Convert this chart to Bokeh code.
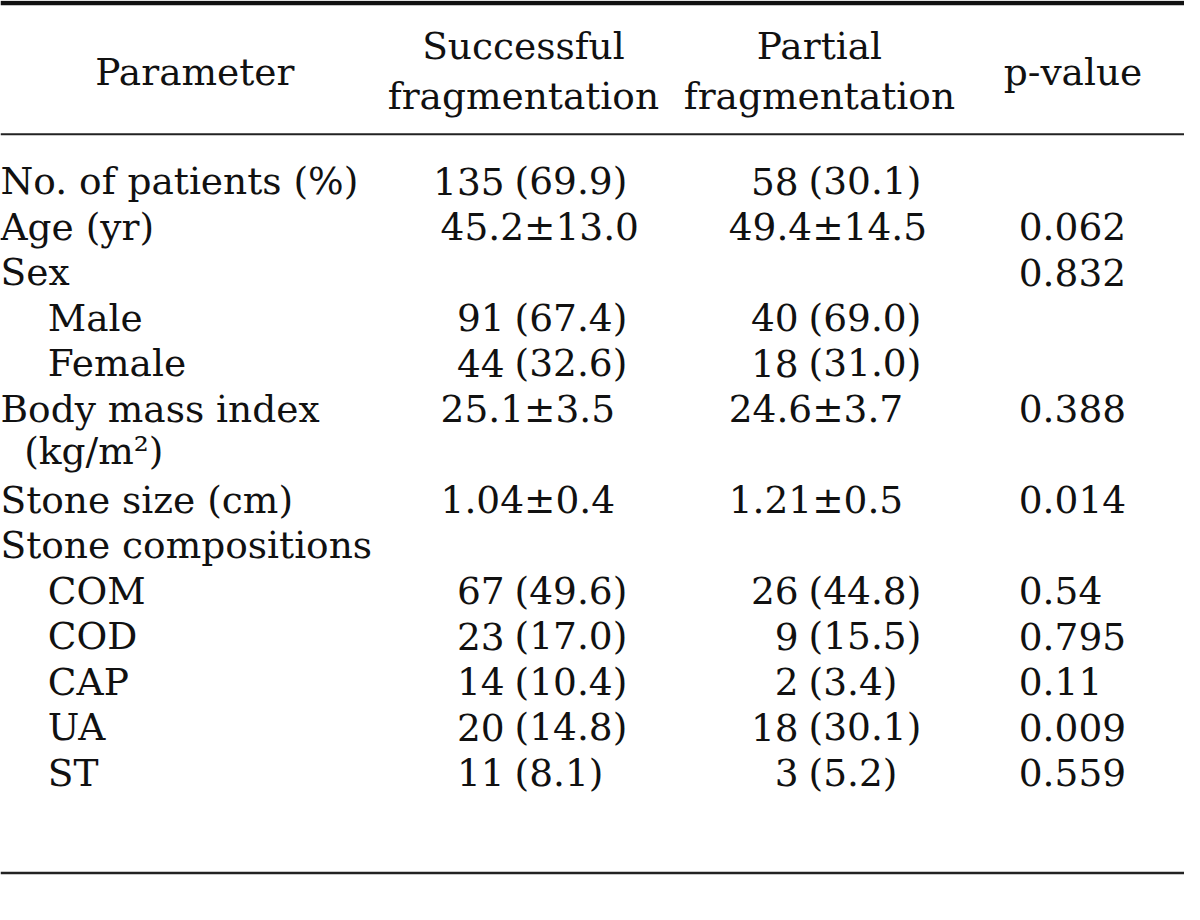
from bokeh.plotting import figure
from bokeh.models import ColumnDataSource, Range1d
from bokeh.core.properties import value
from bokeh.embed import file_html
from bokeh.resources import INLINE

# ---------------- data ----------------
headers = ["Parameter", "Successful\nfragmentation", "Partial\nfragmentation", "p-value"]

labels = ["No. of patients (%)", "Age (yr)", "Sex", "Male", "Female",
          "Body mass index", "(kg/m\u00b2)", "Stone size (cm)", "Stone compositions",
          "COM", "COD", "CAP", "UA", "ST"]
indent = [0, 0, 0, 2, 2, 0, 1, 0, 0, 2, 2, 2, 2, 2]

# successful fragmentation: counts (%) or mean±SD
succ_n   = ["135", "", "", "91", "44", "", "", "", "", "67", "23", "14", "20", "11"]
succ_pct = ["(69.9)", "", "", "(67.4)", "(32.6)", "", "", "", "", "(49.6)", "(17.0)", "(10.4)", "(14.8)", "(8.1)"]
succ_ms  = ["", "45.2\u00b113.0", "", "", "", "25.1\u00b13.5", "", "1.04\u00b10.4", "", "", "", "", "", ""]

# partial fragmentation
part_n   = ["58", "", "", "40", "18", "", "", "", "", "26", "9", "2", "18", "3"]
part_pct = ["(30.1)", "", "", "(69.0)", "(31.0)", "", "", "", "", "(44.8)", "(15.5)", "(3.4)", "(30.1)", "(5.2)"]
part_ms  = ["", "49.4\u00b114.5", "", "", "", "24.6\u00b13.7", "", "1.21\u00b10.5", "", "", "", "", "", ""]

pvals = ["", "0.062", "0.832", "", "", "0.388", "", "0.014", "", "0.54", "0.795", "0.11", "0.009", "0.559"]

# ---------------- layout ----------------
W, H = 1200, 920
FONT = value("DejaVu Serif")
FS = "37.5px"

p = figure(width=1184, height=904, output_backend="svg", toolbar_location=None,
           x_range=Range1d(0, W), y_range=Range1d(H, 0),
           min_border=0, min_border_left=0, min_border_right=0,
           min_border_top=0, min_border_bottom=0)
p.axis.visible = False
p.grid.visible = False
p.outline_line_color = None
p.background_fill_color = "white"

# rules
p.segment(x0=[0], y0=[2.5], x1=[W], y1=[2.5], line_color="#111111", line_width=4.5)
p.segment(x0=[0], y0=[136], x1=[W], y1=[136], line_color="#222222", line_width=2)
p.segment(x0=[0], y0=[888], x1=[W], y1=[888], line_color="#222222", line_width=2.5)

def txt(xs, ys, texts, align):
    src = ColumnDataSource(dict(x=xs, y=ys, t=texts))
    p.text(x="x", y="y", text="t", source=src, text_font=FONT, text_font_size=FS,
           text_align=align, text_baseline="middle", text_color="#111111")

# header
hx = [197, 530, 830, 1087]
hdr_x, hdr_y, hdr_t = [], [], []
for x, h in zip(hx, headers):
    parts = h.split("\n")
    if len(parts) == 1:
        hdr_x.append(x); hdr_y.append(73); hdr_t.append(parts[0])
    else:
        hdr_x += [x, x]; hdr_y += [46, 97]; hdr_t += parts
txt(hdr_x, hdr_y, hdr_t, "center")

# body rows
row0, dy = 184, 46.3
ys = [row0 + i * dy for i in range(len(labels))]
ys = [y - (3 if labels[i].startswith("(kg") else 0) for i, y in enumerate(ys)]

txt([0 + 24 * k for k in indent], ys, labels, "left")

def keep(xs, ys_, ts):
    r = [(x, y, t) for x, y, t in zip(xs, ys_, ts) if t]
    return [a[0] for a in r], [a[1] for a in r], [a[2] for a in r]

n = len(labels)
# successful column
txt(*keep([511] * n, ys, succ_n), "right")
txt(*keep([521] * n, ys, succ_pct), "left")
txt(*keep([446] * n, ys, succ_ms), "left")
# partial column
txt(*keep([809] * n, ys, part_n), "right")
txt(*keep([819] * n, ys, part_pct), "left")
txt(*keep([738] * n, ys, part_ms), "left")
# p-values
txt(*keep([1032] * n, ys, pvals), "left")

open("out.html", "w").write(file_html(p, INLINE))
